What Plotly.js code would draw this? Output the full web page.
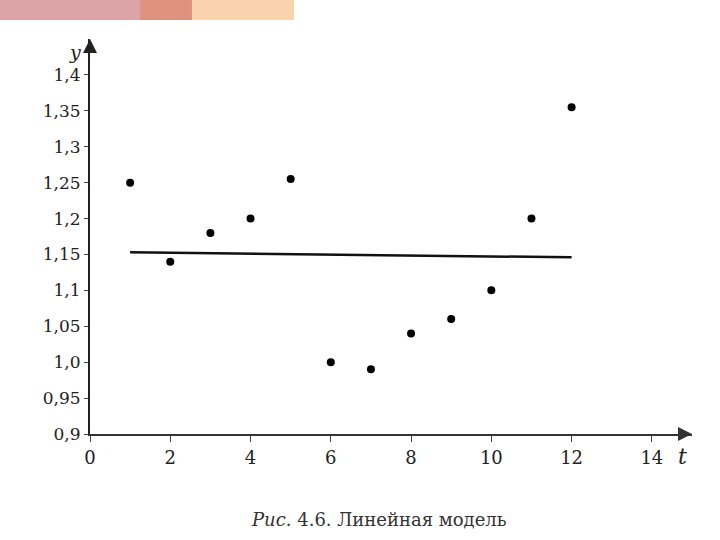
<!DOCTYPE html>
<html>
<head>
<meta charset="utf-8">
<script src="https://cdn.plot.ly/plotly-3.0.1.min.js"></script>
<style>html,body{margin:0;padding:0;background:#fff;}#chart{width:720px;height:540px;}</style>
</head>
<body>
<div id="chart"></div>
<script>
// Data
const tValues = [1, 2, 3, 4, 5, 6, 7, 8, 9, 10, 11, 12];
const yValues = [1.25, 1.14, 1.18, 1.20, 1.255, 1.00, 0.99, 1.04, 1.06, 1.10, 1.20, 1.355];
const trendT = [1, 12];
const trendY = [1.153, 1.146];
const yTickVals = [0.9, 0.95, 1.0, 1.05, 1.1, 1.15, 1.2, 1.25, 1.3, 1.35, 1.4];
const yTickText = ['0,9', '0,95', '1,0', '1,05', '1,1', '1,15', '1,2', '1,25', '1,3', '1,35', '1,4'];
const xTickVals = [0, 2, 4, 6, 8, 10, 12, 14];
const xTickText = ['0', '2', '4', '6', '8', '10', '12', '14'];

const serif = '"DejaVu Serif"';

const traces = [
  {
    x: trendT, y: trendY, mode: 'lines', type: 'scatter',
    line: {color: '#111', width: 2.5}, hoverinfo: 'skip', cliponaxis: false
  },
  {
    x: tValues, y: yValues, mode: 'markers', type: 'scatter',
    marker: {color: '#000', size: 8}, cliponaxis: false
  }
];

const layout = {
  width: 720, height: 540,
  margin: {l: 90, r: 28, t: 39, b: 106},
  paper_bgcolor: '#fff', plot_bgcolor: '#fff',
  showlegend: false,
  font: {family: serif, color: '#222', size: 18},
  xaxis: {
    range: [0, 15], showgrid: false, zeroline: false,
    showline: true, linecolor: '#333', linewidth: 2,
    tickmode: 'array', tickvals: xTickVals, ticktext: xTickText,
    ticks: 'outside', ticklen: 6, tickwidth: 1, tickcolor: '#444',
    tickfont: {family: serif, size: 18, color: '#222'}
  },
  yaxis: {
    range: [0.9, 1.45], showgrid: false, zeroline: false,
    showline: true, linecolor: '#222', linewidth: 2,
    tickmode: 'array', tickvals: yTickVals, ticktext: yTickText,
    ticks: 'outside', ticklen: 4, tickwidth: 1, tickcolor: '#444',
    tickfont: {family: serif, size: 17, color: '#222'}
  },
  shapes: [
    {type: 'rect', xref: 'paper', yref: 'paper', x0: -0.1495, x1: 0.0831, y0: 1.0481, y1: 1.1,
      fillcolor: '#DDA4A7', line: {width: 0}},
    {type: 'rect', xref: 'paper', yref: 'paper', x0: 0.0831, x1: 0.1694, y0: 1.0481, y1: 1.1,
      fillcolor: '#DF9280', line: {width: 0}},
    {type: 'rect', xref: 'paper', yref: 'paper', x0: 0.1694, x1: 0.3389, y0: 1.0481, y1: 1.1,
      fillcolor: '#F8D3AE', line: {width: 0}}
  ],
  annotations: [
    {x: 0, y: 1.45, xref: 'x', yref: 'y', ax: 0, ay: 12, text: '', showarrow: true,
      arrowhead: 2, arrowsize: 1.4, arrowwidth: 2, arrowcolor: '#222'},
    {x: 15, y: 0.9, xref: 'x', yref: 'y', ax: -12, ay: 0, text: '', showarrow: true,
      arrowhead: 2, arrowsize: 1.4, arrowwidth: 2, arrowcolor: '#333'},
    {x: -0.012, y: 1.0, xref: 'paper', yref: 'paper', xanchor: 'right', yanchor: 'top',
      text: '<i>y</i>', showarrow: false, font: {family: serif, size: 19, color: '#222'}},
    {x: 0.985, y: -0.02, xref: 'paper', yref: 'paper', xanchor: 'center', yanchor: 'top',
      text: '<i>t</i>', showarrow: false, font: {family: serif, size: 22, color: '#222'}},
    {x: 0.48, y: -0.185, xref: 'paper', yref: 'paper', xanchor: 'center', yanchor: 'top',
      text: '<i>Рис.</i> 4.6. Линейная модель', showarrow: false,
      font: {family: serif, size: 18, color: '#333'}}
  ]
};

Plotly.newPlot('chart', traces, layout, {displayModeBar: false, staticPlot: true});
</script>
</body>
</html>
